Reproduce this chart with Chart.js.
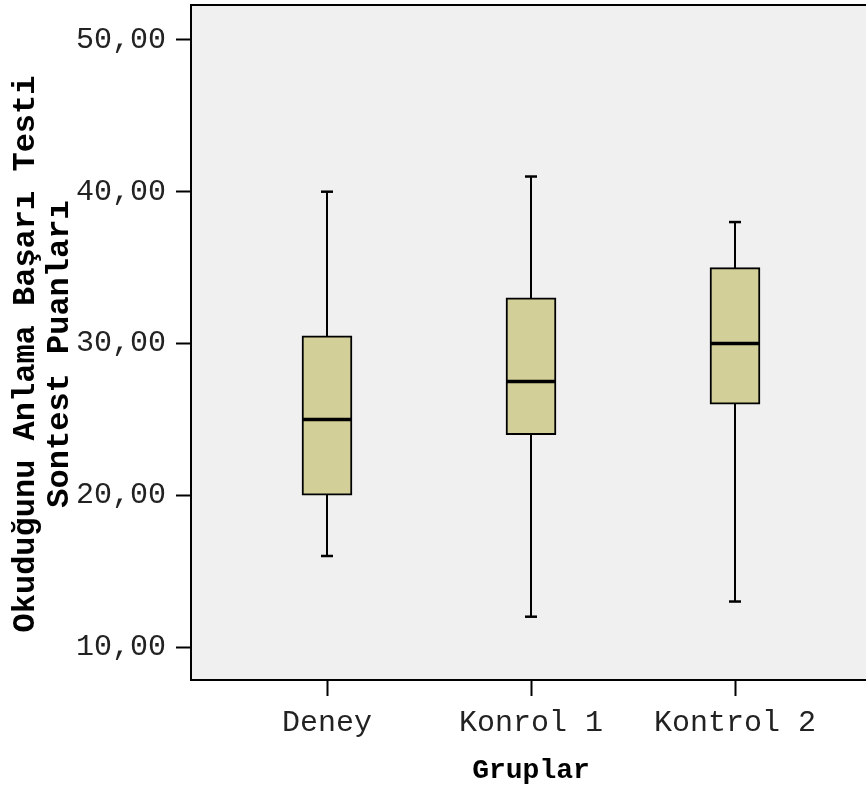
<!DOCTYPE html>
<html>
<head>
<meta charset="utf-8">
<script src="https://cdn.jsdelivr.net/npm/chart.js@4.4.1/dist/chart.umd.min.js"></script>
<style>
  html, body { margin: 0; padding: 0; background: #fff; overflow: hidden; }
  #wrap { width: 871px; height: 789px; }
</style>
</head>
<body>
<div id="wrap"><canvas id="boxChart" width="871" height="789"></canvas></div>
<script>
const groups = ['Deney', 'Konrol 1', 'Kontrol 2'];
const whiskerLow = [16, 12, 13];
const quart1 = [20, 24, 26];
const medians = [25, 27.5, 30];
const quart3 = [30.5, 33, 35];
const whiskerHigh = [40, 41, 38];
const yTicks = [10, 20, 30, 40, 50];
const yTitle = ['Okuduğunu Anlama Başarı Testi', 'Sontest Puanları'];

const monoFont = "'Liberation Mono', 'Courier New', monospace";

// background, frame, whiskers, medians and the y title
const boxPlugin = {
    id: 'boxPlugin',
    beforeDraw(chart) {
        const a = chart.chartArea;
        const c = chart.ctx;
        c.save();
        c.fillStyle = '#f0f0f0';
        c.fillRect(a.left, a.top, a.right - a.left, a.bottom - a.top);
        // y title, two lines, rotated
        c.translate(0, 354);
        c.rotate(-Math.PI / 2);
        c.fillStyle = '#000';
        c.font = 'bold 32px ' + monoFont;
        c.textAlign = 'center';
        c.textBaseline = 'middle';
        c.fillText(yTitle[0], 0, 26);
        c.fillText(yTitle[1], 0, 60);
        c.restore();
    },
    beforeDatasetsDraw(chart) {
        const c = chart.ctx;
        const xs = chart.scales.x, ys = chart.scales.y;
        c.save();
        c.strokeStyle = '#000';
        groups.forEach((g, i) => {
            const px = Math.round(xs.getPixelForValue(i + 1));
            c.lineWidth = 2;
            c.beginPath();
            c.moveTo(px, ys.getPixelForValue(whiskerLow[i]));
            c.lineTo(px, ys.getPixelForValue(whiskerHigh[i]));
            c.stroke();
            c.lineWidth = 2.5;
            [whiskerLow[i], whiskerHigh[i]].forEach(v => {
                const py = ys.getPixelForValue(v);
                c.beginPath();
                c.moveTo(px - 6, py);
                c.lineTo(px + 6, py);
                c.stroke();
            });
        });
        c.restore();
    },
    afterDatasetsDraw(chart) {
        const c = chart.ctx;
        const xs = chart.scales.x, ys = chart.scales.y;
        const a = chart.chartArea;
        c.save();
        c.strokeStyle = '#000';
        c.lineWidth = 3.5;
        groups.forEach((g, i) => {
            const px = xs.getPixelForValue(i + 1);
            const py = ys.getPixelForValue(medians[i]);
            c.beginPath();
            c.moveTo(px - 25, py);
            c.lineTo(px + 25, py);
            c.stroke();
        });
        c.lineWidth = 2;
        c.beginPath();
        c.moveTo(a.left - 1, a.top);
        c.lineTo(a.right + 5, a.top);
        c.stroke();
        c.restore();
    }
};

const ctx = document.getElementById('boxChart');
const boxChart = new Chart(ctx, {
    type: 'bar',
    data: {
        datasets: [{
            data: groups.map((g, i) => ({ x: i + 1, y: [quart1[i], quart3[i]] })),
            backgroundColor: '#d3cf99',
            borderColor: '#000',
            borderWidth: 2,
            borderSkipped: false,
            barThickness: 50
        }]
    },
    plugins: [boxPlugin],
    options: {
        responsive: false,
        animation: false,
        events: [],
        layout: { padding: { top: 5, left: 0, right: 0, bottom: 0 } },
        plugins: { legend: { display: false }, tooltip: { enabled: false } },
        scales: {
            x: {
                type: 'linear',
                offset: false,
                min: 1 - 136 / 204,
                max: 3 + 136 / 204,
                afterBuildTicks: s => { s.ticks = [1, 2, 3].map(v => ({ value: v })); },
                afterFit: s => { s.height = 109; s.paddingLeft = 0; s.paddingRight = 0; },
                ticks: {
                    callback: v => groups[v - 1],
                    font: { family: monoFont, size: 30 },
                    color: '#222',
                    padding: 9,
                    maxRotation: 0,
                    autoSkip: false
                },
                grid: { offset: false, drawOnChartArea: false, tickLength: 16, tickWidth: 2, tickColor: '#000' },
                border: { display: true, color: '#000', width: 2 },
                title: {
                    display: true,
                    text: 'Gruplar',
                    font: { family: monoFont, size: 28, weight: 'bold' },
                    color: '#000',
                    padding: { top: 0, bottom: 1 }
                }
            },
            y: {
                min: 7.83,
                max: 52.3,
                afterBuildTicks: s => { s.ticks = yTicks.map(v => ({ value: v })); },
                afterFit: s => { s.width = 191; s.paddingTop = 0; s.paddingBottom = 0; },
                ticks: {
                    callback: v => v.toFixed(2).replace('.', ','),
                    font: { family: monoFont, size: 30 },
                    color: '#222',
                    padding: 10
                },
                grid: { drawOnChartArea: false, tickLength: 15, tickWidth: 2, tickColor: '#000' },
                border: { display: true, color: '#000', width: 2 },
                title: { display: false }
            }
        }
    }
});
</script>
</body>
</html>
